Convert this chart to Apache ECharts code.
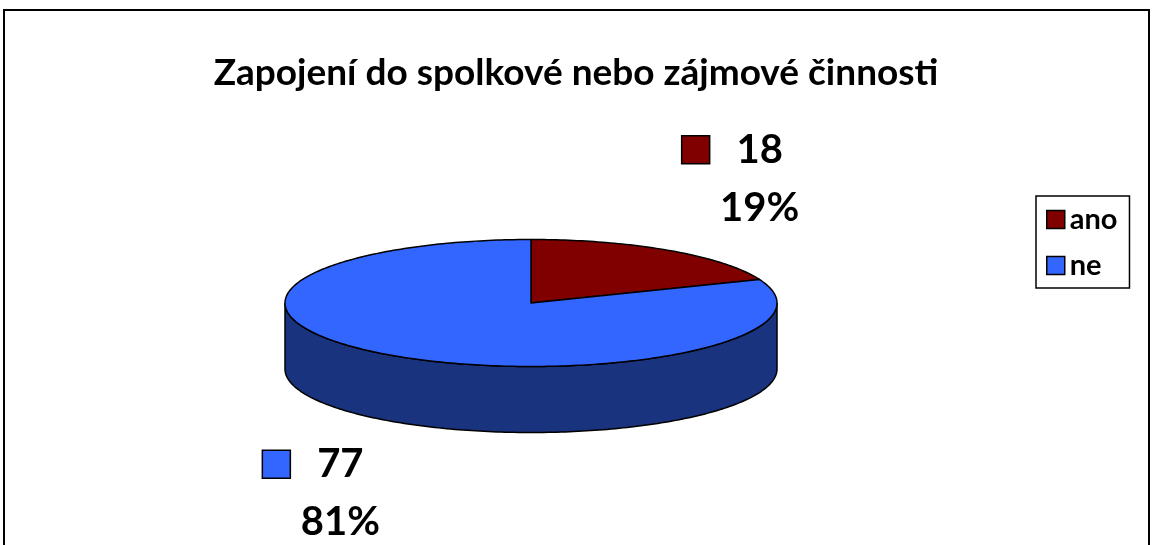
<!DOCTYPE html>
<html>
<head>
<meta charset="utf-8">
<script src="https://cdn.jsdelivr.net/npm/echarts@6/dist/echarts.min.js"></script>
<style>
  html, body { margin: 0; padding: 0; background: #fff; }
  #wrap { position: relative; width: 1152px; height: 545px; overflow: hidden; }
  #chart { position: absolute; left: 0; top: 0; width: 1152px; height: 545px; }
  #frame { position: absolute; left: 3px; top: 9px; width: 1143px; height: 600px; border: 2px solid #000; pointer-events: none; }
</style>
</head>
<body>
<div id="wrap">
  <div id="chart"></div>
  <div id="frame"></div>
</div>
<script>
const titleText = 'Zapojení do spolkové nebo zájmové činnosti'
const categories = ['ano', 'ne']
const counts = [18, 77]

const topColors = ['#800000', '#3366FF']
const sideColors = ['#400000', '#1A337F']
const fontFamily = 'Lato, "Open Sans", sans-serif'

// pie layout (3D look, tilted)
const pie = { cx: 531, cy: 303, rx: 246, ry: 63.5, depth: 66 }

const total = counts.reduce((a, b) => a + b, 0)

function pt(deg, yOff) {
  const r = (deg * Math.PI) / 180
  return [pie.cx + pie.rx * Math.sin(r), pie.cy - pie.ry * Math.cos(r) + (yOff || 0)]
}

function arc(from, to, yOff) {
  const pts = []
  const steps = Math.max(2, Math.ceil(Math.abs(to - from)))
  for (let i = 0; i <= steps; i++) {
    pts.push(pt(from + ((to - from) * i) / steps, yOff))
  }
  return pts
}

function makeRender(idx) {
  return function (params, api) {
    const value = api.value(0)
    let before = 0
    for (let i = 0; i < idx; i++) before += counts[i]
    const start = (before / total) * 360
    const end = start + (value / total) * 360
    const children = []

    // visible side wall (front half of the ellipse)
    const a = Math.max(start, 90)
    const b = Math.min(end, 270)
    if (b > a) {
      const pts = arc(a, b, 0).concat(arc(b, a, pie.depth))
      children.push({
        type: 'polygon',
        z2: 1,
        shape: { points: pts },
        style: { fill: sideColors[idx], stroke: '#000', lineWidth: 1.5 }
      })
    }

    // top face
    children.push({
      type: 'polygon',
      z2: 2,
      shape: { points: [[pie.cx, pie.cy]].concat(arc(start, end, 0)) },
      style: { fill: topColors[idx], stroke: '#000', lineWidth: 1.5, lineJoin: 'round' }
    })

    // label: key + value + percent
    const mid = ((start + end) / 2) * Math.PI / 180
    const bx = pie.cx + Math.sin(mid) * 1.52 * pie.rx
    const by = pie.cy - Math.cos(mid) * 2.365 * pie.ry + (Math.cos(mid) < 0 ? pie.depth : 0)
    const pct = Math.round((value / total) * 100) + '%'
    children.push({
      type: 'rect',
      z2: 3,
      shape: { x: bx - 59, y: by - 43, width: 28, height: 28 },
      style: { fill: topColors[idx], stroke: '#000', lineWidth: 1.5 }
    })
    children.push({
      type: 'text',
      z2: 3,
      x: bx + 19,
      y: by - 29,
      style: { text: String(value), fill: '#000', font: 'bold 40px ' + fontFamily, align: 'center', verticalAlign: 'middle' }
    })
    children.push({
      type: 'text',
      z2: 3,
      x: bx + 19,
      y: by + 29,
      style: { text: pct, fill: '#000', font: 'bold 40px ' + fontFamily, align: 'center', verticalAlign: 'middle' }
    })

    return { type: 'group', children: children }
  }
}

const chart = echarts.init(document.getElementById('chart'))

const series = categories.map((name, i) => ({
  type: 'custom',
  name: name,
  coordinateSystem: 'none',
  itemStyle: { color: topColors[i] },
  data: [[counts[i]]],
  renderItem: makeRender(i)
}))

chart.setOption({
  animation: false,
  backgroundColor: '#fff',
  title: {
    text: titleText,
    left: 'center',
    top: 50,
    textStyle: { fontFamily: fontFamily, fontWeight: 'bold', fontSize: 37, color: '#000' }
  },
  legend: {
    orient: 'vertical',
    left: 1036,
    top: 196,
    data: categories,
    icon: 'rect',
    itemWidth: 18,
    itemHeight: 18,
    itemGap: 17,
    padding: [9, 12, 8, 10],
    borderColor: '#000',
    borderWidth: 1.5,
    borderRadius: 0,
    selectedMode: false,
    itemStyle: { borderColor: '#000', borderWidth: 1.5 },
    textStyle: { fontFamily: fontFamily, fontWeight: 'bold', fontSize: 29, color: '#000', lineHeight: 29 }
  },
  series: series
})
</script>
</body>
</html>
